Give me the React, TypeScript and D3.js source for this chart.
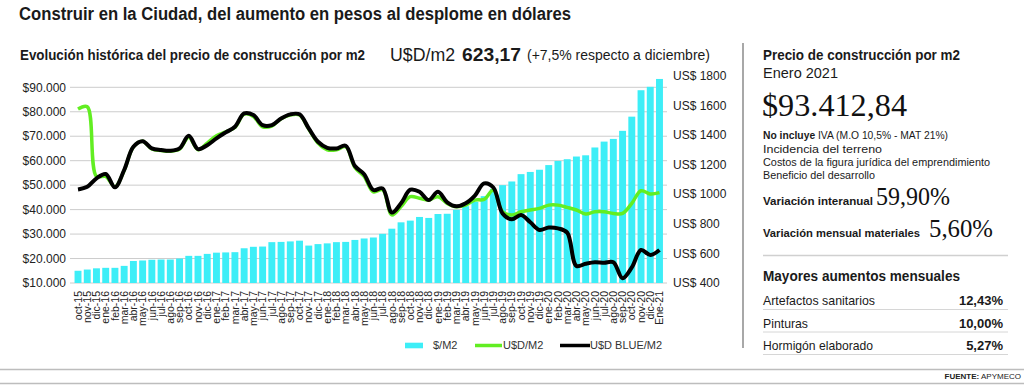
import React, { useRef, useEffect } from "react";
import * as d3 from "d3";

// months on the x axis
const months = [
  "oct-15", "nov-15", "dic-15",
  "ene-16", "feb-16", "mar-16", "abr-16", "may-16", "jun-16", "jul-16", "ago-16", "sep-16", "oct-16", "nov-16", "dic-16",
  "ene-17", "feb-17", "mar-17", "abr-17", "may-17", "jun-17", "jul-17", "ago-17", "sep-17", "oct-17", "nov-17", "dic-17",
  "ene-18", "feb-18", "mar-18", "abr-18", "may-18", "jun-18", "jul-18", "ago-18", "sep-18", "oct-18", "nov-18", "dic-18",
  "ene-19", "feb-19", "mar-19", "abr-19", "may-19", "jun-19", "jul-19", "ago-19", "sep-19", "oct-19", "nov-19", "dic-19",
  "ene-20", "feb-20", "mar-20", "abr-20", "may-20", "jun-20", "jul-20", "ago-20", "sep-20", "oct-20", "nov-20", "dic-20",
  "Ene-21",
];

// $/M2 (bars, left axis)
const pesosM2 = [
  15000, 15500, 16000, 16200, 16200, 17000, 19000, 19200, 19500, 19600,
  19600, 20000, 21100, 21100, 21900, 22400, 22500, 22600, 24200, 24800,
  24900, 26700, 26800, 27000, 27300, 25300, 25900, 26200, 26700, 26800,
  27600, 28200, 28600, 30100, 32200, 34800, 35500, 37000, 36600, 38200,
  38300, 39900, 41400, 43200, 45500, 48500, 50000, 51500, 54500, 55400,
  56300, 58200, 59900, 60600, 61700, 62200, 65400, 67800, 68900, 72200,
  78000, 88800, 90200, 93412.84,
];

// U$D/M2 official (green, right axis)
const usdOficialM2 = [
  1575, 1590, 1120, 1120, 1050, 1160, 1320, 1358, 1305, 1295,
  1290, 1305, 1385, 1300, 1345, 1395, 1420, 1450, 1540, 1525,
  1455, 1460, 1510, 1535, 1535, 1440, 1345, 1300, 1300, 1320,
  1180, 1120, 1015, 1030, 860, 916, 983, 972, 960, 983,
  938, 915, 926, 960, 965, 1028, 881, 859, 881, 893,
  904, 926, 926, 911, 893, 866, 881, 881, 870, 870,
  938, 1023, 1001, 1010,
];

// U$D BLUE/M2 (black, right axis)
const usdBlueM2 = [
  1032, 1050, 1107, 1136, 1046, 1163, 1320, 1358, 1309, 1298,
  1293, 1309, 1394, 1304, 1331, 1377, 1417, 1455, 1545, 1534,
  1466, 1466, 1511, 1539, 1539, 1444, 1354, 1313, 1309, 1327,
  1190, 1135, 1028, 1039, 876, 938, 1030, 1016, 960, 1016,
  945, 918, 938, 990, 1073, 1045, 870, 830, 859, 810,
  758, 775, 769, 740, 515, 530, 540, 537, 540, 432,
  505, 623, 589, 623.17,
];

const leftTicks = [10000, 20000, 30000, 40000, 50000, 60000, 70000, 80000, 90000];
const rightTicks = [400, 600, 800, 1000, 1200, 1400, 1600, 1800];

const legendItems = [
  { label: "$/M2", color: "#3DEEF7", kind: "bar" },
  { label: "U$D/M2", color: "#62EE22", kind: "line" },
  { label: "U$D BLUE/M2", color: "#000000", kind: "line" },
];

const detailLines = [
  "Incidencia del terreno",
  "Costos de la figura jurídica del emprendimiento",
  "Beneficio del desarrollo",
];

const variaciones = [
  { label: "Variación interanual", value: "59,90%" },
  { label: "Variación mensual materiales", value: "5,60%" },
];

const aumentos = [
  { name: "Artefactos sanitarios", value: "12,43%" },
  { name: "Pinturas", value: "10,00%" },
  { name: "Hormigón elaborado", value: "5,27%" },
];

const App = () => {
  const svgRef = useRef(null);

  useEffect(() => {
    document.body.style.margin = "0";
    const width = 1024;
    const height = 385;

    const sans = "'Liberation Sans', Arial, sans-serif";
    const narrow = "'Liberation Sans Narrow', 'Liberation Sans', Arial, sans-serif";
    const serif = "'Liberation Serif', 'Times New Roman', serif";

    const svg = d3.select(svgRef.current);
    svg.selectAll("*").remove();
    svg.attr("width", width).attr("height", height).style("display", "block").style("background", "#fff");

    const addText = (parent, o) => {
      const t = parent
        .append("text")
        .attr("x", o.x)
        .attr("y", o.y)
        .attr("font-family", o.family || narrow)
        .attr("font-size", o.size)
        .attr("font-weight", o.weight || "normal")
        .attr("fill", o.fill || "#1a1a1a")
        .attr("text-anchor", o.anchor || "start");
      if (o.length) t.attr("textLength", o.length).attr("lengthAdjust", "spacingAndGlyphs");
      if (o.parts) {
        o.parts.forEach((p) => {
          const s = t.append("tspan").attr("font-weight", p.weight || "normal").text(p.text);
          if (p.x != null) s.attr("x", p.x);
          if (p.size) s.attr("font-size", p.size);
          if (p.family) s.attr("font-family", p.family);
          if (p.fill) s.attr("fill", p.fill);
          if (p.length) s.attr("textLength", p.length).attr("lengthAdjust", "spacingAndGlyphs");
        });
      } else {
        t.text(o.text);
      }
      return t;
    };

    // ---- header ----
    addText(svg, { x: 19, y: 20, size: 17.5, weight: "bold", length: 552, text: "Construir en la Ciudad, del aumento en pesos al desplome en dólares" });
    addText(svg, { x: 20, y: 60, size: 14, weight: "bold", length: 345, text: "Evolución histórica del precio de construcción por m2" });
    addText(svg, { x: 390, y: 61, size: 18, length: 65, text: "U$D/m2" });
    addText(svg, { x: 462, y: 61, size: 18, weight: "bold", length: 59, text: "623,17" });
    addText(svg, { x: 527, y: 60, size: 14, length: 183, text: "(+7,5% respecto a diciembre)" });

    // ---- chart ----
    const x = d3.scaleBand().domain(months).range([73.4, 664.1]).paddingInner(0.25).paddingOuter(0.125);
    const yL = d3.scaleLinear().domain([10000, 90000]).range([283, 87.3]);
    const yR = d3.scaleLinear().domain([400, 1800]).range([283, 75.7]);
    const bw = x.bandwidth();
    const cx = (m) => x(m) + bw / 2;

    const money = d3.formatLocale({ decimal: ",", thousands: ".", grouping: [3], currency: ["$", ""] }).format("$,.0f");

    const grid = svg.append("g");
    grid
      .selectAll("line")
      .data(leftTicks)
      .join("line")
      .attr("x1", 70)
      .attr("x2", 667)
      .attr("y1", (d) => yL(d))
      .attr("y2", (d) => yL(d))
      .attr("stroke", "#cccccc")
      .attr("stroke-width", 1);

    svg
      .append("g")
      .selectAll("text")
      .data(leftTicks)
      .join("text")
      .attr("x", 66)
      .attr("y", (d) => yL(d))
      .attr("dy", "0.35em")
      .attr("text-anchor", "end")
      .attr("font-family", sans)
      .attr("font-size", 12)
      .attr("fill", "#222")
      .text((d) => money(d));

    svg
      .append("g")
      .selectAll("text")
      .data(rightTicks)
      .join("text")
      .attr("x", 673)
      .attr("y", (d) => yR(d))
      .attr("dy", "0.35em")
      .attr("font-family", sans)
      .attr("font-size", 12)
      .attr("fill", "#222")
      .text((d) => `US$ ${d}`);

    svg
      .append("g")
      .selectAll("rect")
      .data(pesosM2)
      .join("rect")
      .attr("x", (d, i) => x(months[i]))
      .attr("y", (d) => yL(d))
      .attr("width", bw)
      .attr("height", (d) => yL(10000) - yL(d))
      .attr("fill", legendItems[0].color);

    const line = d3
      .line()
      .x((d, i) => cx(months[i]))
      .y((d) => yR(d))
      .curve(d3.curveCatmullRom.alpha(0.5));

    svg
      .append("path")
      .attr("d", line(usdOficialM2))
      .attr("fill", "none")
      .attr("stroke", legendItems[1].color)
      .attr("stroke-width", 3.5)
      .attr("stroke-linejoin", "round");

    svg
      .append("path")
      .attr("d", line(usdBlueM2))
      .attr("fill", "none")
      .attr("stroke", legendItems[2].color)
      .attr("stroke-width", 4)
      .attr("stroke-linejoin", "round");

    svg
      .append("g")
      .selectAll("text")
      .data(months)
      .join("text")
      .attr("transform", (d) => `translate(${cx(d)},291) rotate(-90)`)
      .attr("dy", "0.35em")
      .attr("text-anchor", "end")
      .attr("font-family", sans)
      .attr("font-size", 10.5)
      .attr("fill", "#222")
      .text((d) => d);

    // legend
    const legendX = [405, 475, 560];
    const lg = svg.append("g");
    legendItems.forEach((d, i) => {
      const g = lg.append("g").attr("transform", `translate(${legendX[i]},345.5)`);
      if (d.kind === "bar") {
        g.append("rect").attr("x", 0).attr("y", -2.8).attr("width", 18).attr("height", 5.6).attr("fill", d.color);
      } else {
        g.append("line").attr("x1", 0).attr("x2", i === 2 ? 30 : 27).attr("stroke", d.color).attr("stroke-width", 3.5);
      }
      g.append("text")
        .attr("x", d.kind === "bar" ? 28 : i === 2 ? 30 : 28)
        .attr("dy", "0.36em")
        .attr("font-family", sans)
        .attr("font-size", 11)
        .attr("fill", "#333")
        .text(d.label);
    });

    // ---- right panel ----
    svg.append("line").attr("x1", 743).attr("x2", 743).attr("y1", 43).attr("y2", 348).attr("stroke", "#a8a8a8").attr("stroke-width", 2);

    const px = 763;
    addText(svg, { x: px, y: 60, size: 14.5, weight: "bold", length: 197, text: "Precio de construcción por m2" });
    addText(svg, { x: px, y: 78, size: 15, length: 75, text: "Enero 2021" });
    addText(svg, { x: px - 1, y: 116, size: 32, family: serif, fill: "#111", length: 145, text: "$93.412,84" });
    addText(svg, { x: px, y: 139, size: 11, length: 185, parts: [{ text: "No incluye", weight: "bold" }, { text: " IVA (M.O 10,5% - MAT 21%)" }] });
    const detailLen = [119, 227, 112];
    detailLines.forEach((d, i) => addText(svg, { x: px, y: 152.5 + i * 13, size: 11, length: detailLen[i], text: d }));

    // label + big serif figure
    const varPos = [
      { y: 205, labelLen: 110, vx: 876, vLen: 74 },
      { y: 237, labelLen: 157, vx: 929, vLen: 64 },
    ];
    variaciones.forEach((d, i) => {
      const p = varPos[i];
      addText(svg, { x: px, y: p.y, size: 11.5, weight: "bold", length: p.labelLen, text: d.label });
      addText(svg, { x: p.vx, y: p.y, size: 25, family: serif, fill: "#111", length: p.vLen, text: d.value });
    });

    svg.append("line").attr("x1", px).attr("x2", 1008).attr("y1", 255.5).attr("y2", 255.5).attr("stroke", "#d0d0d0").attr("stroke-width", 1.5);
    addText(svg, { x: px, y: 281, size: 15, weight: "bold", length: 197, text: "Mayores aumentos mensuales" });

    const rows = svg.append("g");
    const rowLen = [112, 45, 110];
    aumentos.forEach((d, i) => {
      const y = 305 + i * 22.5;
      addText(rows, { x: px, y, size: 13, length: rowLen[i], text: d.name });
      addText(rows, { x: 1003, y, size: 13, weight: "bold", anchor: "end", family: sans, text: d.value });
      rows.append("line").attr("x1", px).attr("x2", 1008).attr("y1", y + 4.5).attr("y2", y + 4.5).attr("stroke", "#d6d6d6").attr("stroke-width", 1);
    });

    // ---- footer ----
    svg.append("line").attr("x1", 0).attr("x2", width).attr("y1", 369.5).attr("y2", 369.5).attr("stroke", "#bdbdbd").attr("stroke-width", 1.5);
    svg.append("line").attr("x1", 0).attr("x2", width).attr("y1", 383.5).attr("y2", 383.5).attr("stroke", "#bdbdbd").attr("stroke-width", 1.5);
    addText(svg, { x: 1021, y: 379, size: 8, anchor: "end", fill: "#222", parts: [{ text: "FUENTE:", weight: "bold" }, { text: " APYMECO" }] });
  }, []);

  return <svg ref={svgRef}></svg>;
};

export default App;
